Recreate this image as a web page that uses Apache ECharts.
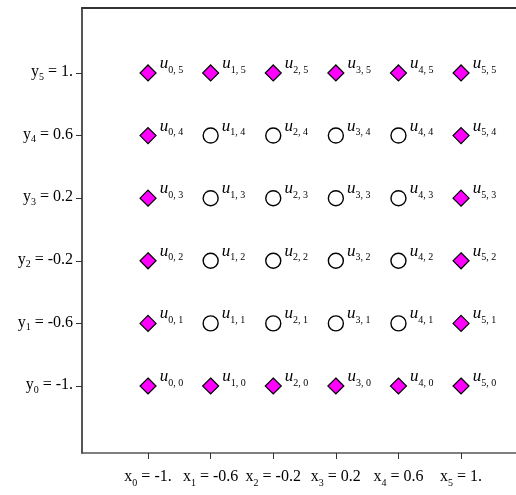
<!DOCTYPE html>
<html>
<head>
<meta charset="utf-8">
<script src="https://cdn.jsdelivr.net/npm/echarts@6/dist/echarts.min.js"></script>
<style>html,body{margin:0;padding:0;background:#fff}#c{width:516px;height:495px}</style>
</head>
<body>
<div id="c"></div>
<script>
const xValues = [-1, -0.6, -0.2, 0.2, 0.6, 1];
const yValues = [-1, -0.6, -0.2, 0.2, 0.6, 1];
const xTickText = ['-1.', '-0.6', '-0.2', '0.2', '0.6', '1.'];
const yTickText = ['-1.', '-0.6', '-0.2', '0.2', '0.6', '1.'];

const serif = 'Liberation Serif';
const boundary = [], interior = [];
for (let i = 0; i < xValues.length; i++) {
  for (let j = 0; j < yValues.length; j++) {
    const pt = {value: [xValues[i], yValues[j]], i: i, j: j};
    if (i === 0 || j === 0 || i === xValues.length - 1 || j === yValues.length - 1) boundary.push(pt);
    else interior.push(pt);
  }
}
function idx(arr, v) {
  for (let k = 0; k < arr.length; k++) if (Math.abs(arr[k] - v) < 1e-6) return k;
  return -1;
}
const labelCfg = {
  show: true,
  position: 'right',
  distance: 3,
  offset: [0, -7],
  formatter: p => '{u|u}{s|' + p.data.i + ', ' + p.data.j + '}',
  rich: {
    u: {fontFamily: serif, fontStyle: 'italic', fontSize: 17, color: '#000', lineHeight: 18, verticalAlign: 'bottom', padding: [0, 0, 3, 0]},
    s: {fontFamily: serif, fontSize: 10, color: '#000', lineHeight: 13, verticalAlign: 'bottom'}
  }
};
const xRich = {
  a: {fontFamily: serif, fontSize: 16, color: '#000', verticalAlign: 'bottom', lineHeight: 18, padding: [0, 0, 3, 0]},
  s: {fontFamily: serif, fontSize: 10, color: '#000', verticalAlign: 'bottom', lineHeight: 13}
};
const yRich = {
  a: {fontFamily: serif, fontSize: 16, color: '#000', verticalAlign: 'bottom', lineHeight: 18, padding: [0, 0, 2, 0]},
  s: {fontFamily: serif, fontSize: 10, color: '#000', verticalAlign: 'bottom', lineHeight: 13}
};
const chart = echarts.init(document.getElementById('c'), null, {renderer: 'canvas'});
chart.setOption({
  animation: false,
  backgroundColor: '#fff',
  grid: {left: 82, top: 8, width: 434, height: 445, show: false, containLabel: false},
  xAxis: [{
    type: 'value', min: -1.422, max: 1.351,
    splitLine: {show: false},
    axisLine: {show: true, onZero: false, lineStyle: {color: '#555', width: 1.5}},
    axisTick: {show: true, customValues: xValues, length: 6, lineStyle: {color: '#333', width: 1}},
    axisLabel: {
      customValues: xValues, margin: 17,
      formatter: v => { const k = idx(xValues, v); return '{a|x}{s|' + k + '}{a| = ' + xTickText[k] + '}'; },
      rich: xRich
    }
  }, {
    type: 'value', position: 'top', min: -1.422, max: 1.351,
    splitLine: {show: false},
    axisLine: {show: true, onZero: false, lineStyle: {color: '#333', width: 2}},
    axisTick: {show: false},
    axisLabel: {show: false}
  }],
  yAxis: {
    type: 'value', min: -1.428, max: 1.415,
    splitLine: {show: false},
    axisLine: {show: true, onZero: false, lineStyle: {color: '#555', width: 2}},
    axisTick: {show: true, customValues: yValues, length: 6, lineStyle: {color: '#333', width: 1}},
    axisLabel: {
      customValues: yValues, margin: 9,
      formatter: v => { const k = idx(yValues, v); return '{a|y}{s|' + k + '}{a| = ' + yTickText[k] + '}'; },
      rich: yRich
    }
  },
  series: [
    {
      type: 'scatter', data: boundary, symbol: 'diamond', symbolSize: [16, 16],
      itemStyle: {color: '#ff00ff', borderColor: '#000', borderWidth: 1.2, opacity: 1},
      label: labelCfg
    },
    {
      type: 'scatter', data: interior, symbol: 'circle', symbolSize: 15,
      itemStyle: {color: '#fff', borderColor: '#000', borderWidth: 1.4, opacity: 1},
      label: labelCfg
    }
  ]
});
</script>
</body>
</html>
